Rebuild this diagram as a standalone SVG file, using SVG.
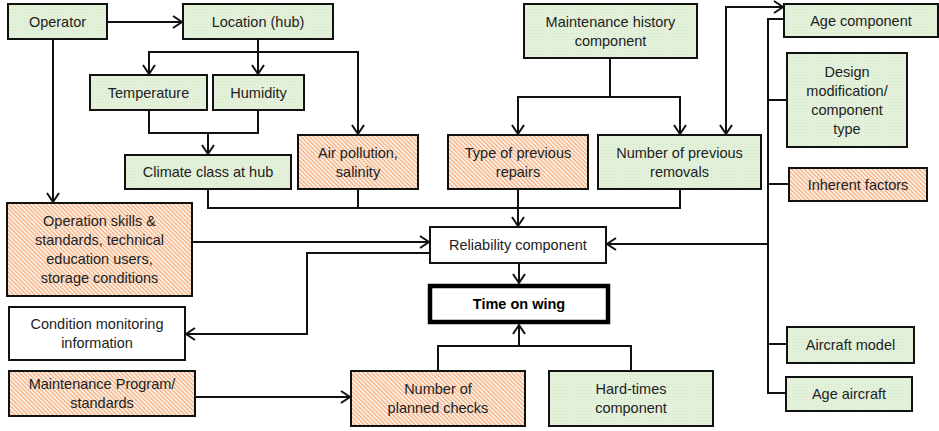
<svg xmlns="http://www.w3.org/2000/svg" width="939" height="431" viewBox="0 0 939 431">
  <style>
    .box { stroke: #111; stroke-width: 2; }
    .green { fill: url(#greenFill); }
    .orange { fill: url(#hatch); }
    .plain { fill: #fff; }
    .lbl { font-family: "Liberation Sans", Arial, sans-serif; font-size: 14.5px; fill: #222; text-anchor: middle; dominant-baseline: central; }
    .bold { font-weight: bold; fill: #000; }
    .wire { fill: none; stroke: #111; stroke-width: 2; }
    .arr { marker-end: url(#chev); }
  </style>
  <defs>
    <pattern id="greenFill" width="3" height="3" patternUnits="userSpaceOnUse">
      <rect width="3" height="3" fill="#e3f1da"/>
      <rect width="1" height="1" fill="#d2e8c6"/>
    </pattern>
    <!-- diagonal orange hatching -->
    <pattern id="hatch" width="3" height="3" patternUnits="userSpaceOnUse" patternTransform="rotate(45)">
      <rect width="3" height="3" fill="#fff"/>
      <rect width="3" height="1.6" fill="#f4b183"/>
    </pattern>
    <marker id="chev" viewBox="-11 -7 13 14" markerWidth="13" markerHeight="14" refX="0" refY="0" orient="auto" markerUnits="userSpaceOnUse">
      <path d="M-9,-6 L0,0 L-9,6" fill="none" stroke="#111" stroke-width="2"/>
    </marker>
    <marker id="chevStart" viewBox="-11 -7 13 14" markerWidth="13" markerHeight="14" refX="0" refY="0" orient="auto-start-reverse" markerUnits="userSpaceOnUse">
      <path d="M-9,-6 L0,0 L-9,6" fill="none" stroke="#111" stroke-width="2"/>
    </marker>
  </defs>

  <g id="connectors">
    <path class="wire arr" d="M107,22 H182"/>
    <path class="wire arr" d="M53,39 V202"/>
    <path class="wire arr" d="M258,39 V74"/>
    <path class="wire arr" d="M258,52 H149 V74"/>
    <path class="wire arr" d="M258,52 H358 V134"/>
    <path class="wire" d="M149,110 V133 H258 V110"/>
    <path class="wire arr" d="M208,133 V154"/>
    <path class="wire" d="M610,58 V97"/>
    <path class="wire arr" d="M610,97 H518 V134"/>
    <path class="wire arr" d="M610,97 H680 V134"/>
    <path class="wire arr" d="M726,134 V7 H783" marker-start="url(#chevStart)"/>
    <path class="wire" d="M784,19 H768 V393 H786"/>
    <path class="wire" d="M768,100 H787 M768,184 H789 M768,344 H787"/>
    <path class="wire arr" d="M768,244 H607"/>
    <path class="wire" d="M208,189 V208 H680 V189 M358,189 V208"/>
    <path class="wire arr" d="M518,189 V226"/>
    <path class="wire arr" d="M192,242 H429"/>
    <path class="wire arr" d="M430,253 H307 V334 H186"/>
    <path class="wire arr" d="M519,263 V283"/>
    <path class="wire arr" d="M195,397 H350"/>
    <path class="wire" d="M438,371 V346 H631 V371"/>
    <path class="wire arr" d="M519,346 V325"/>
  </g>

  <g id="operator">
    <rect class="box green" x="8" y="4" width="99" height="35"/>
    <text class="lbl" x="57.5" y="21.5">Operator</text>
  </g>
  <g id="location">
    <rect class="box green" x="183" y="4" width="150" height="35"/>
    <text class="lbl" x="258" y="21.5">Location (hub)</text>
  </g>
  <g id="temperature">
    <rect class="box green" x="90" y="75" width="117" height="35"/>
    <text class="lbl" x="148.5" y="92.5">Temperature</text>
  </g>
  <g id="humidity">
    <rect class="box green" x="213" y="75" width="91" height="35"/>
    <text class="lbl" x="258.5" y="92.5">Humidity</text>
  </g>
  <g id="climate">
    <rect class="box green" x="125" y="155" width="166" height="34"/>
    <text class="lbl" x="208" y="172">Climate class at hub</text>
  </g>
  <g id="air-pollution">
    <rect class="box orange" x="298" y="135" width="120" height="54"/>
    <text class="lbl" x="358" y="153">Air pollution,</text>
    <text class="lbl" x="358" y="172">salinity</text>
  </g>
  <g id="maintenance-history">
    <rect class="box green" x="524" y="4" width="173" height="54"/>
    <text class="lbl" x="610.5" y="22">Maintenance history</text>
    <text class="lbl" x="610.5" y="41">component</text>
  </g>
  <g id="previous-repairs">
    <rect class="box orange" x="448" y="135" width="140" height="54"/>
    <text class="lbl" x="518" y="153">Type of previous</text>
    <text class="lbl" x="518" y="172">repairs</text>
  </g>
  <g id="previous-removals">
    <rect class="box green" x="598" y="135" width="163" height="54"/>
    <text class="lbl" x="679.5" y="153">Number of previous</text>
    <text class="lbl" x="679.5" y="172">removals</text>
  </g>
  <g id="age-component">
    <rect class="box green" x="784" y="4" width="154" height="33"/>
    <text class="lbl" x="861" y="20.5">Age component</text>
  </g>
  <g id="design-modification">
    <rect class="box green" x="787" y="53" width="120" height="94"/>
    <text class="lbl" x="847" y="72">Design</text>
    <text class="lbl" x="847" y="91">modification/</text>
    <text class="lbl" x="847" y="110">component</text>
    <text class="lbl" x="847" y="129">type</text>
  </g>
  <g id="inherent-factors">
    <rect class="box orange" x="789" y="168" width="138" height="33"/>
    <text class="lbl" x="858" y="184.5">Inherent factors</text>
  </g>
  <g id="operation-skills">
    <rect class="box orange" x="7" y="203" width="185" height="93"/>
    <text class="lbl" x="99.5" y="221">Operation skills &amp;</text>
    <text class="lbl" x="99.5" y="240">standards, technical</text>
    <text class="lbl" x="99.5" y="259">education users,</text>
    <text class="lbl" x="99.5" y="278">storage conditions</text>
  </g>
  <g id="reliability">
    <rect class="box plain" x="430" y="227" width="176" height="36"/>
    <text class="lbl" x="518" y="245">Reliability component</text>
  </g>
  <g id="time-on-wing">
    <rect class="plain" x="430" y="286" width="178" height="36" stroke="#000" stroke-width="4.5"/>
    <text class="lbl bold" x="519" y="304">Time on wing</text>
  </g>
  <g id="condition-monitoring">
    <rect class="box plain" x="9" y="307" width="176" height="53"/>
    <text class="lbl" x="97" y="324">Condition monitoring</text>
    <text class="lbl" x="97" y="343">information</text>
  </g>
  <g id="maintenance-program">
    <rect class="box orange" x="9" y="371" width="186" height="45"/>
    <text class="lbl" x="102" y="384">Maintenance Program/</text>
    <text class="lbl" x="102" y="403">standards</text>
  </g>
  <g id="planned-checks">
    <rect class="box orange" x="351" y="371" width="174" height="55"/>
    <text class="lbl" x="438" y="389">Number of</text>
    <text class="lbl" x="438" y="408">planned checks</text>
  </g>
  <g id="hard-times">
    <rect class="box green" x="549" y="371" width="164" height="55"/>
    <text class="lbl" x="631" y="389">Hard-times</text>
    <text class="lbl" x="631" y="408">component</text>
  </g>
  <g id="aircraft-model">
    <rect class="box green" x="787" y="327" width="127" height="36"/>
    <text class="lbl" x="850.5" y="345">Aircraft model</text>
  </g>
  <g id="age-aircraft">
    <rect class="box green" x="786" y="377" width="126" height="34"/>
    <text class="lbl" x="849" y="394">Age aircraft</text>
  </g>
</svg>
